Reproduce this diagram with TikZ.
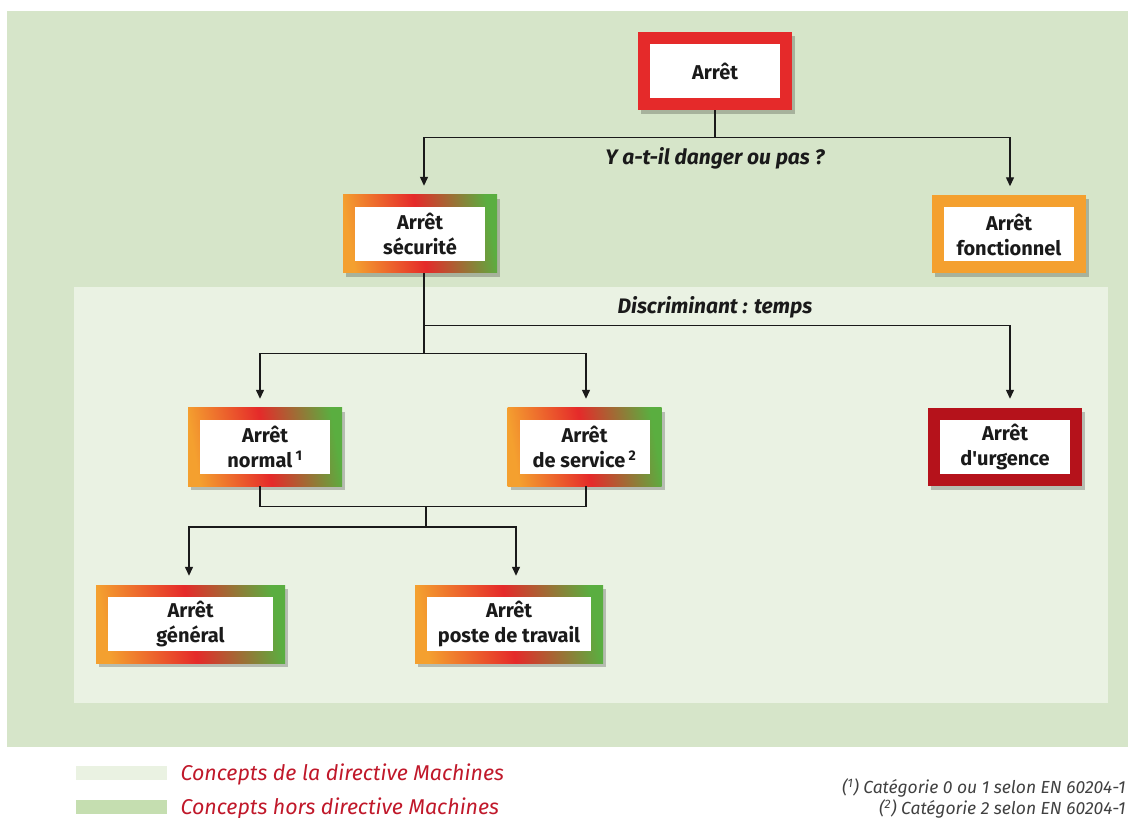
\documentclass[tikz,border=0pt]{standalone}
\usepackage{fontspec}
\setmainfont{Fira Sans}
\usetikzlibrary{arrows.meta,shadows}
\definecolor{bgout}{HTML}{D6E5C9}
\definecolor{bgin}{HTML}{EAF2E3}
\definecolor{frOr}{HTML}{F4A02F}
\definecolor{frRd}{HTML}{E52A2A}
\definecolor{frGr}{HTML}{5AAE40}
\definecolor{frUrg}{HTML}{B5121B}
\definecolor{txt}{HTML}{1A1A1A}
\definecolor{legred}{HTML}{C0182A}
\definecolor{swLight}{HTML}{EAF2E2}
\definecolor{swDark}{HTML}{C5DEB0}
\definecolor{foot}{HTML}{404040}
\begin{document}
\begin{tikzpicture}[x=1pt,y=-1pt,
  box/.style={rectangle, minimum width=154pt, minimum height=78pt, inner sep=0pt,
    align=center, text=txt, font=\bfseries\fontsize{20}{25}\selectfont,
    drop shadow={shadow xshift=3pt, shadow yshift=-4pt, opacity=0.22, fill=black},
    path picture={\fill[white] ([shift={(12pt,-12pt)}]path picture bounding box.north west)
      rectangle ([shift={(-12pt,12pt)}]path picture bounding box.south east);}},
  gbox/.style={box, left color=frOr, right color=frGr, middle color=frRd, shading angle=100},
  redbox/.style={box, fill=frRd},
  orbox/.style={box, fill=frOr},
  urgbox/.style={box, fill=frUrg},
  conn/.style={line width=1.3pt, draw=txt},
  arr/.style={conn, -{Triangle[length=9pt,width=8pt]}, shorten >=9pt},
  lbl/.style={font=\bfseries\itshape\fontsize{21}{24}\selectfont, text=txt},
  leg/.style={font=\itshape\fontsize{21.4}{24}\selectfont, text=legred, anchor=west},
  fn/.style={font=\itshape\fontsize{17.5}{20}\selectfont, text=foot, anchor=east}
]
\useasboundingbox (0,0) rectangle (1128,818);
\fill[bgout] (7,11) rectangle (1128,747);
\fill[bgin] (74,287) rectangle (1108,703);

% boxes
\node[redbox] (arret) at (715,71) {Arrêt};
\node[gbox] (secu) at (420,234) {Arrêt\\sécurité};
\node[orbox] (fonct) at (1009,234.5) {Arrêt\\fonctionnel};
\node[gbox] (normal) at (265,447) {Arrêt\\normal\,\textsuperscript{1}};
\node[gbox] (service) at (584.5,447) {Arrêt\\de service\,\textsuperscript{2}};
\node[urgbox] (urgence) at (1005,447) {Arrêt\\d\textquotesingle urgence};
\node[gbox, minimum width=189pt] (general) at (190.5,624) {Arrêt\\général};
\node[gbox, minimum width=188pt] (poste) at (509,624) {Arrêt\\poste de travail};

% level 1
\draw[conn] (arret.south) -- ++(0,27) coordinate (j1);
\draw[arr] (j1) -| ([xshift=4pt]secu.north);
\draw[arr] (j1) -| ([xshift=1pt]fonct.north);
\node[lbl] (q1) at (715,158) {Y a-t-il danger ou pas ?};

% level 2
\draw[conn] ([xshift=4pt]secu.south) -- ++(0,80) coordinate (j2);
\coordinate (j3) at ([xshift=4pt,yshift=-52pt]secu.south);
\draw[arr] (j3) -| ([xshift=5pt]urgence.north);
\draw[arr] (j2) -| ([xshift=-5pt]normal.north);
\draw[arr] (j2) -| ([xshift=1.5pt]service.north);
\node[lbl] (q2) at (715,307) {Discriminant : temps};

% level 3
\draw[conn] ([xshift=-5pt]normal.south) -- ++(0,20) -| ([xshift=1.5pt]service.south);
\coordinate (j4) at (426,506);
\draw[conn] (j4) -- ++(0,21) coordinate (j5);
\draw[arr] (j5) -| ([xshift=-1.5pt]general.north);
\draw[arr] (j5) -| ([xshift=7pt]poste.north);

% legend
\fill[swLight] (76,766) rectangle (167,780);
\fill[swDark] (76,800) rectangle (167,814);
\node[leg] (l1) at (177,774) {Concepts de la directive Machines};
\node[leg] (l2) at (177,808) {Concepts hors directive Machines};
\node[fn] (f1) at (1129,788) {(\textsuperscript{1}) Catégorie 0 ou 1 selon EN 60204-1};
\node[fn] (f2) at (1129,809) {(\textsuperscript{2}) Catégorie 2 selon EN 60204-1};
\end{tikzpicture}
\end{document}
